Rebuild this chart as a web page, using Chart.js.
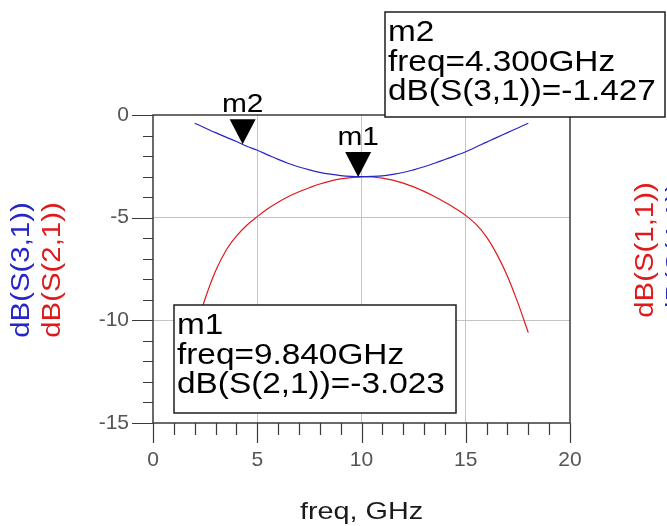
<!DOCTYPE html>
<html>
<head>
<meta charset="utf-8">
<script src="https://cdn.jsdelivr.net/npm/chart.js@4.4.1/dist/chart.umd.min.js"></script>
<style>
  html, body { margin: 0; padding: 0; background: #ffffff; }
  #wrap { width: 667px; height: 526px; position: relative; }
</style>
</head>
<body>
<div id="wrap"><canvas id="c" width="667" height="526"></canvas></div>
<script>
// Sweep frequencies, GHz
const freqGHz = [2, 2.5, 3, 3.5, 4, 4.5, 5, 5.5, 6, 6.5, 7, 7.5, 8, 8.5, 9, 9.5, 10,
                 10.5, 11, 11.5, 12, 12.5, 13, 13.5, 14, 14.5, 15, 15.5, 16, 16.5, 17, 17.5, 18];

// Transmission to port 3 (through)
const s31dB = [-0.40, -0.63, -0.86, -1.08, -1.29, -1.52, -1.72, -1.94, -2.16, -2.36, -2.53, -2.67, -2.79, -2.88, -2.95, -2.99, -3.00,
               -2.99, -2.96, -2.89, -2.80, -2.67, -2.52, -2.35, -2.17, -1.98, -1.79, -1.56, -1.32, -1.09, -0.86, -0.63, -0.40];

// Transmission to port 2 (coupled)
const s21dB = [-10.6, -8.95, -7.6, -6.6, -5.9, -5.37, -4.95, -4.57, -4.25, -3.97, -3.74, -3.54, -3.36, -3.22, -3.11, -3.05, -3.01,
               -3.02, -3.07, -3.17, -3.32, -3.50, -3.72, -3.97, -4.25, -4.55, -4.89, -5.33, -5.95, -6.8, -7.85, -9.15, -10.6];

// Labelled ticks
const xTickLabels = [0, 5, 10, 15, 20];
const yTickLabels = [0, -5, -10, -15];

// Marker readouts
const markerNames  = ['m1', 'm2'];
const markerFreq   = [9.84, 4.3];
const markerValue  = [-3.023, -1.427];
const markerTrace  = ['dB(S(2,1))', 'dB(S(3,1))'];
const markerFreqText  = ['9.840GHz', '4.300GHz'];
const markerValueText = ['-3.023', '-1.427'];

const FONT = '"Liberation Sans", Arial, Helvetica, sans-serif';
const BLUE = '#2626c8';
const RED  = '#e01a1a';

function toPoints(xs, ys) { return xs.map((v, i) => ({ x: v, y: ys[i] })); }

function wideText(ctx, str, x, y, size, sx, color, align, angle) {
  ctx.save();
  ctx.font = size + 'px ' + FONT;
  ctx.fillStyle = color;
  ctx.textBaseline = 'alphabetic';
  ctx.textAlign = align || 'left';
  ctx.translate(x, y);
  if (angle) ctx.rotate(angle);
  ctx.scale(sx, 1);
  ctx.fillText(str, 0, 0);
  ctx.restore();
}

// Frame, tick marks, marker triangles, readout boxes and axis titles
const decorations = {
  id: 'decorations',
  afterDatasetsDraw(chart) {
    const { ctx, chartArea: a, scales: { x, y } } = chart;
    ctx.save();

    // plot frame
    ctx.strokeStyle = '#3a3a3a';
    ctx.lineWidth = 1.5;
    ctx.strokeRect(a.left, a.top, a.right - a.left, a.bottom - a.top);

    // y tick marks (outside, left)
    ctx.lineWidth = 1.2;
    ctx.beginPath();
    for (let v = y.min; v <= y.max; v++) {
      const py = Math.round(y.getPixelForValue(v)) + 0.5;
      const len = (v % 5 === 0) ? 21 : 10;
      ctx.moveTo(a.left - len, py);
      ctx.lineTo(a.left, py);
    }
    // x tick marks (outside, below)
    for (let v = x.min; v <= x.max; v++) {
      const px = Math.round(x.getPixelForValue(v)) + 0.5;
      const len = (v % 5 === 0) ? 20 : 12;
      ctx.moveTo(px, a.bottom);
      ctx.lineTo(px, a.bottom + len);
    }
    ctx.stroke();

    // marker triangles with names above
    for (let i = 0; i < markerNames.length; i++) {
      const tx = x.getPixelForValue(markerFreq[i]);
      const ty = y.getPixelForValue(markerValue[i]);
      ctx.fillStyle = '#000000';
      ctx.beginPath();
      ctx.moveTo(tx, ty);
      ctx.lineTo(tx - 13, ty - 25);
      ctx.lineTo(tx + 13, ty - 25);
      ctx.closePath();
      ctx.fill();
      wideText(ctx, markerNames[i], tx, ty - 32, 26, 1.15, '#000000', 'center');
    }

    // readout boxes
    const boxes = [
      { i: 0, l: 174, t: 305, r: 456, b: 413 },
      { i: 1, l: 385, t: 12,  r: 665, b: 117 }
    ];
    boxes.forEach(bx => {
      ctx.fillStyle = '#ffffff';
      ctx.fillRect(bx.l, bx.t, bx.r - bx.l, bx.b - bx.t);
      ctx.strokeStyle = '#1e1e1e';
      ctx.lineWidth = 1.5;
      ctx.strokeRect(bx.l, bx.t, bx.r - bx.l, bx.b - bx.t);
      const lines = [
        markerNames[bx.i],
        'freq=' + markerFreqText[bx.i],
        markerTrace[bx.i] + '=' + markerValueText[bx.i]
      ];
      lines.forEach((s, k) => wideText(ctx, s, bx.l + 3, bx.t + 29 + k * 29.5, 29, 1.15, '#000000', 'left'));
    });

    // left axis titles
    wideText(ctx, 'dB(S(3,1))', 29, 270, 26, 1.13, BLUE, 'center', -Math.PI / 2);
    wideText(ctx, 'dB(S(2,1))', 60, 270, 26, 1.13, RED,  'center', -Math.PI / 2);
    // right axis titles
    wideText(ctx, 'dB(S(1,1))', 653, 250, 26, 1.13, RED,  'center', -Math.PI / 2);
    wideText(ctx, 'dB(S(4,1))', 684, 250, 26, 1.13, BLUE, 'center', -Math.PI / 2);
    // x axis title
    wideText(ctx, 'freq, GHz', (a.left + a.right) / 2, 519, 24, 1.2, '#1a1a1a', 'center');

    ctx.restore();
  }
};

new Chart(document.getElementById('c'), {
  type: 'line',
  data: {
    datasets: [
      {
        label: 'dB(S(3,1))',
        data: toPoints(freqGHz, s31dB),
        borderColor: BLUE,
        borderWidth: 1.2,
        pointRadius: 0,
        tension: 0.4
      },
      {
        label: 'dB(S(2,1))',
        data: toPoints(freqGHz, s21dB),
        borderColor: RED,
        borderWidth: 1.2,
        pointRadius: 0,
        tension: 0.4
      }
    ]
  },
  options: {
    responsive: false,
    animation: false,
    devicePixelRatio: 1,
    layout: { padding: { left: 0, top: 115, right: 97, bottom: 0 } },
    plugins: { legend: { display: false }, tooltip: { enabled: false }, title: { display: false } },
    scales: {
      x: {
        type: 'linear',
        min: 0, max: 20,
        afterFit: s => { s.height = 103; },
        afterBuildTicks: s => { s.ticks = Array.from({ length: 21 }, (_, i) => ({ value: i })); },
        ticks: {
          autoSkip: false,
          maxRotation: 0,
          padding: 25,
          color: '#555555',
          font: { family: FONT, size: 21 },
          callback: v => xTickLabels.includes(v) ? String(v) : ''
        },
        grid: {
          drawTicks: false,
          lineWidth: 1,
          color: c => (c.tick && c.tick.value % 5 === 0 && c.tick.value > 0 && c.tick.value < 20) ? '#c4c4c4' : 'rgba(0,0,0,0)'
        },
        border: { display: false }
      },
      y: {
        type: 'linear',
        min: -15, max: 0,
        afterFit: s => { s.width = 153; },
        afterBuildTicks: s => { s.ticks = Array.from({ length: 16 }, (_, i) => ({ value: -15 + i })); },
        ticks: {
          autoSkip: false,
          padding: 24,
          color: '#555555',
          font: { family: FONT, size: 21 },
          callback: v => yTickLabels.includes(v) ? String(v) : ''
        },
        grid: {
          drawTicks: false,
          lineWidth: 1,
          color: c => (c.tick && c.tick.value % 5 === 0 && c.tick.value > -15 && c.tick.value < 0) ? '#c4c4c4' : 'rgba(0,0,0,0)'
        },
        border: { display: false }
      }
    }
  },
  plugins: [decorations]
});
</script>
</body>
</html>
